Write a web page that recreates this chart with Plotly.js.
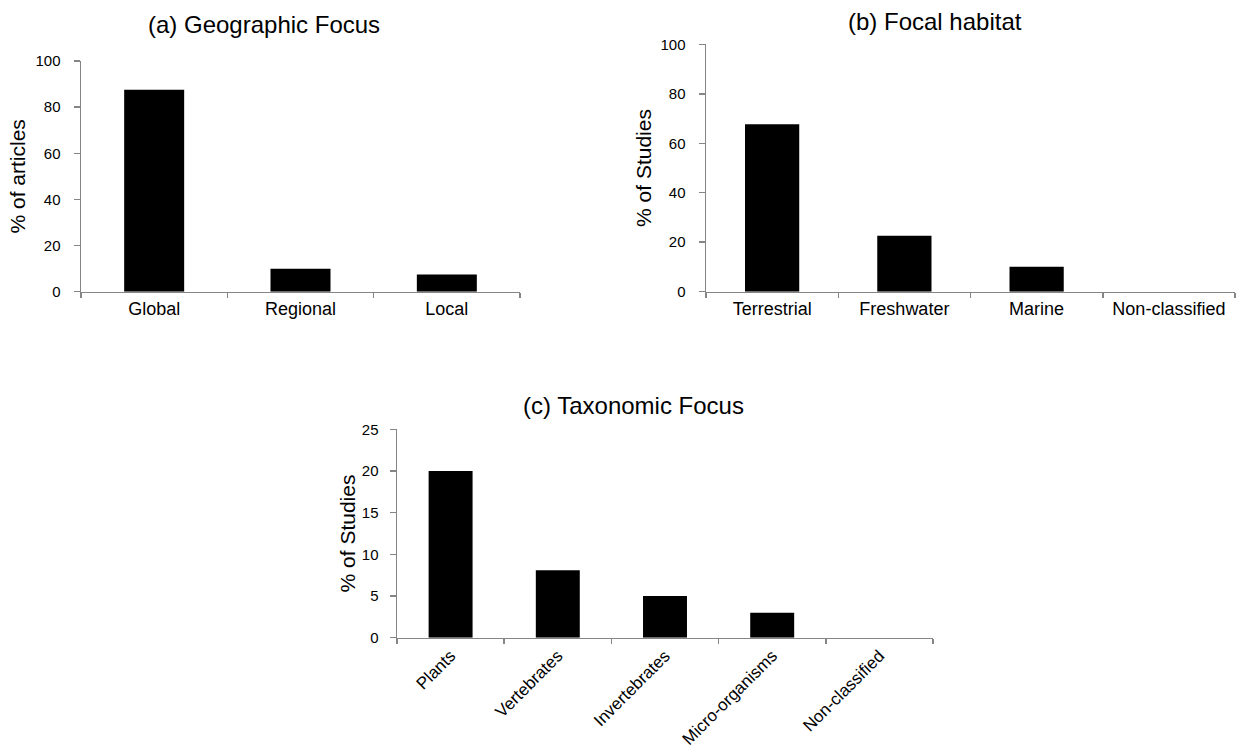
<!DOCTYPE html>
<html>
<head>
<meta charset="utf-8">
<script src="https://cdn.plot.ly/plotly-3.0.1.min.js"></script>
<style>html,body{margin:0;padding:0;background:#fff;}#chart{width:1240px;height:756px;}</style>
</head>
<body>
<div id="chart"></div>
<script>
// Panel (a) Geographic Focus
const geoCategories = ["Global", "Regional", "Local"];
const geoValues = [87.5, 10, 7.5];
// Panel (b) Focal habitat
const habitatCategories = ["Terrestrial", "Freshwater", "Marine", "Non-classified"];
const habitatValues = [67.7, 22.6, 10.1, 0];
// Panel (c) Taxonomic Focus
const taxonCategories = ["Plants", "Vertebrates", "Invertebrates", "Micro-organisms", "Non-classified"];
const taxonValues = [20, 8.1, 5, 3, 0];

const panelTitles = ["(a) Geographic Focus", "(b) Focal habitat", "(c) Taxonomic Focus"];
const yTitles = ["% of articles", "% of Studies", "% of Studies"];
const yTicksA = [0, 20, 40, 60, 80, 100];
const yTicksB = [0, 20, 40, 60, 80, 100];
const yTicksC = [0, 5, 10, 15, 20, 25];

const FONT = "Liberation Sans, Arial, sans-serif";
const AX = "#858585";

function bar(x, y, xa, ya) {
  return {type: "bar", x: x, y: y, xaxis: xa, yaxis: ya,
    marker: {color: "#000", line: {width: 0}},
    hoverinfo: "x+y", showlegend: false};
}

function xaxis(domain, anchor, extra) {
  return Object.assign({
    domain: domain, anchor: anchor, type: "category",
    showline: true, linecolor: AX, linewidth: 1.5,
    ticks: "outside", tickson: "boundaries", ticklen: 5, tickcolor: AX, tickwidth: 1.5,
    showgrid: false, zeroline: false,
    tickfont: {family: FONT, size: 18, color: "#000"},
    automargin: false, fixedrange: true
  }, extra || {});
}

function yaxis(domain, anchor, range, tickvals, title, standoff, labelStandoff) {
  return {
    domain: domain, anchor: anchor, range: range,
    tickmode: "array", tickvals: tickvals,
    showline: true, linecolor: AX, linewidth: 1.5,
    ticks: "outside", ticklen: 6, tickcolor: AX, tickwidth: 1.5,
    ticklabelstandoff: labelStandoff,
    showgrid: false, zeroline: false,
    tickfont: {family: FONT, size: 15, color: "#000"},
    title: {text: title, font: {family: FONT, size: 21, color: "#000"}, standoff: standoff},
    automargin: false, fixedrange: true
  };
}

const data = [
  bar(geoCategories, geoValues, "x", "y"),
  bar(habitatCategories, habitatValues, "x2", "y2"),
  bar(taxonCategories, taxonValues, "x3", "y3")
];

const layout = {
  width: 1240, height: 756,
  margin: {l: 0, r: 0, t: 0, b: 0},
  paper_bgcolor: "#fff", plot_bgcolor: "#fff",
  bargap: 0.59,
  font: {family: FONT, color: "#000"},
  xaxis: xaxis([81/1240, 520/1240], "y"),
  yaxis: yaxis([1 - 291.7/756, 1 - 61/756], "x", [0, 100], yTicksA, yTitles[0], 4, 10),
  xaxis2: xaxis([706/1240, 1235/1240], "y2"),
  yaxis2: yaxis([1 - 291.7/756, 1 - 44.3/756], "x2", [0, 100], yTicksB, yTitles[1], 3, 10),
  xaxis3: xaxis([397/1240, 933/1240], "y3", {tickangle: -45, tickfont: {family: FONT, size: 17, color: "#000"}}),
  yaxis3: yaxis([1 - 637.7/756, 1 - 429.3/756], "x3", [0, 25], yTicksC, yTitles[2], 0, 8),
  annotations: [
    {text: panelTitles[0], x: 264/1240, y: 1 - 24/756, xref: "paper", yref: "paper", xanchor: "center", yanchor: "middle", showarrow: false, font: {family: FONT, size: 24, color: "#000"}},
    {text: panelTitles[1], x: 935/1240, y: 1 - 22/756, xref: "paper", yref: "paper", xanchor: "center", yanchor: "middle", showarrow: false, font: {family: FONT, size: 24, color: "#000"}},
    {text: panelTitles[2], x: 633/1240, y: 1 - 405/756, xref: "paper", yref: "paper", xanchor: "center", yanchor: "middle", showarrow: false, font: {family: FONT, size: 24, color: "#000"}}
  ]
};

Plotly.newPlot("chart", data, layout, {displayModeBar: false, staticPlot: true});
</script>
</body>
</html>
